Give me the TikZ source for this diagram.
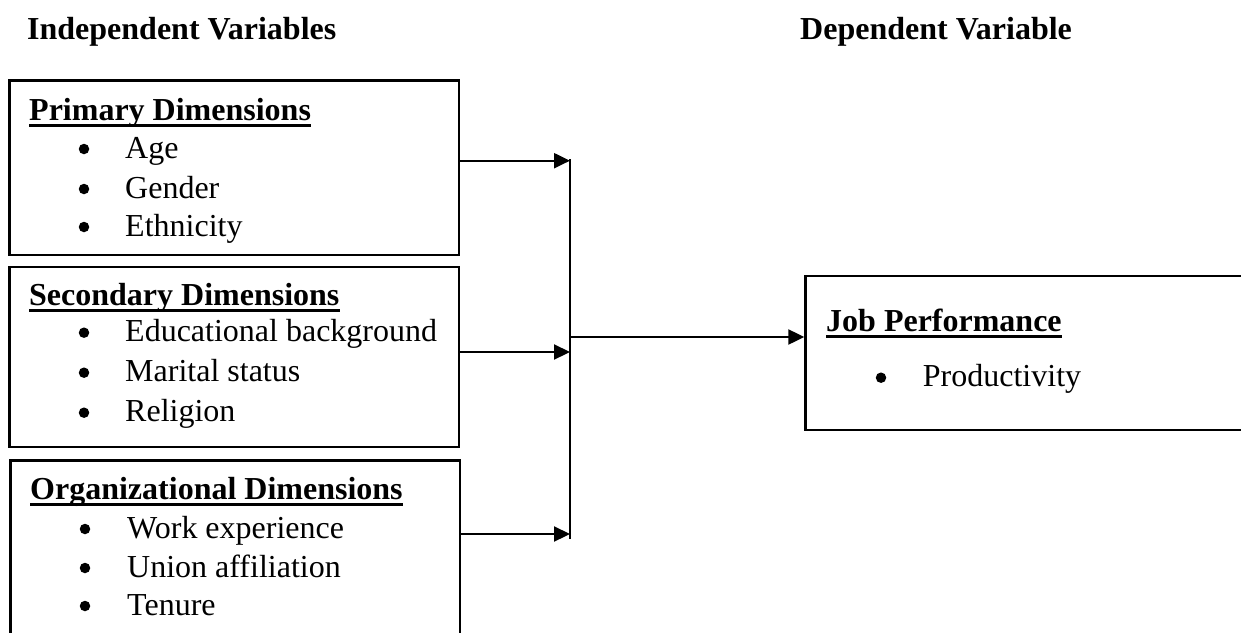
\documentclass[tikz,border=0pt]{standalone}
\usepackage{fontspec}
\setmainfont{Liberation Serif}
\usetikzlibrary{arrows.meta,calc}
\tikzset{
  box/.style={draw=black, line width=2.2pt, rectangle, inner sep=0pt, anchor=north west},
  txt/.style={inner sep=0pt, anchor=base west, font=\fontsize{32}{38}\selectfont},
  hd/.style={txt, font=\fontsize{32}{38}\selectfont\bfseries},
  bul/.style={circle, fill=black, inner sep=0pt, minimum size=10.5pt},
  link/.style={line width=2.2pt, -{Triangle[length=16pt,width=15pt]}},
  rail/.style={line width=1.6pt},
  uline/.style={line width=2.6pt}
}
\begin{document}
\begin{tikzpicture}[x=1pt,y=-1pt]
\useasboundingbox (0,0) rectangle (1241,632);
\clip (0,0) rectangle (1241,632);
% column headers
\node[hd] (indep) at (27,39) {Independent Variables};
\node[hd] (dep) at (800,39) {Dependent Variable};
% boxes
\node[box, minimum width=449.7pt, minimum height=174.7pt] (box1) at (8.3,79.3) {};
\node[box, minimum width=449.7pt, minimum height=179.8pt] (box2) at (8.3,265.7) {};
\node[box, minimum width=449.2pt, minimum height=200pt] (box3) at (9.3,459.3) {};
\node[box, minimum width=470pt, minimum height=154pt] (box4) at (804.3,274.7) {};
% box 1
\node[hd] (h1) at (29,120) {Primary Dimensions};
\draw[uline] ($(h1.base west)+(0,5.3)$) -- ($(h1.base east)+(0,5.3)$);
\node[bul] (b1a) at (84,149) {};
\node[txt] (t1a) at (125,158) {Age};
\node[bul] (b1b) at (84,189) {};
\node[txt] (t1b) at (125,198) {Gender};
\node[bul] (b1c) at (84,227) {};
\node[txt] (t1c) at (125,236) {Ethnicity};
% box 2
\node[hd] (h2) at (29,305) {Secondary Dimensions};
\draw[uline] ($(h2.base west)+(0,5.3)$) -- ($(h2.base east)+(0,5.3)$);
\node[bul] (b2a) at (84,332.7) {};
\node[txt] (t2a) at (125,341.7) {Educational background};
\node[bul] (b2b) at (84,372.7) {};
\node[txt] (t2b) at (125,381.7) {Marital status};
\node[bul] (b2c) at (84,412.7) {};
\node[txt] (t2c) at (125,421.7) {Religion};
% box 3
\node[hd] (h3) at (30,499.3) {Organizational Dimensions};
\draw[uline] ($(h3.base west)+(0,5.3)$) -- ($(h3.base east)+(0,5.3)$);
\node[bul] (b3a) at (85,529) {};
\node[txt] (t3a) at (127,538) {Work experience};
\node[bul] (b3b) at (85,568) {};
\node[txt] (t3b) at (127,577) {Union affiliation};
\node[bul] (b3c) at (85,606) {};
\node[txt] (t3c) at (127,615) {Tenure};
% box 4
\node[hd] (h4) at (826,331) {Job Performance};
\draw[uline] ($(h4.base west)+(0,5.3)$) -- ($(h4.base east)+(0,5.3)$);
\node[bul] (b4a) at (881,377.7) {};
\node[txt] (t4a) at (922.7,386.7) {Productivity};
% connectors
\coordinate (v1) at (570,160.7);
\coordinate (v2) at (570,352);
\coordinate (v3) at (570,534);
\coordinate (vtop) at (570,159);
\coordinate (vbot) at (570,539);
\coordinate (vmid) at (570,337);
\draw[rail] (vtop) -- (vbot);
\draw[link] (box1.east |- v1) -- (v1);
\draw[link] (box2.east |- v2) -- (v2);
\draw[link] (box3.east |- v3) -- (v3);
\draw[link] (vmid) -- (box4.west |- vmid);
\end{tikzpicture}
\end{document}
